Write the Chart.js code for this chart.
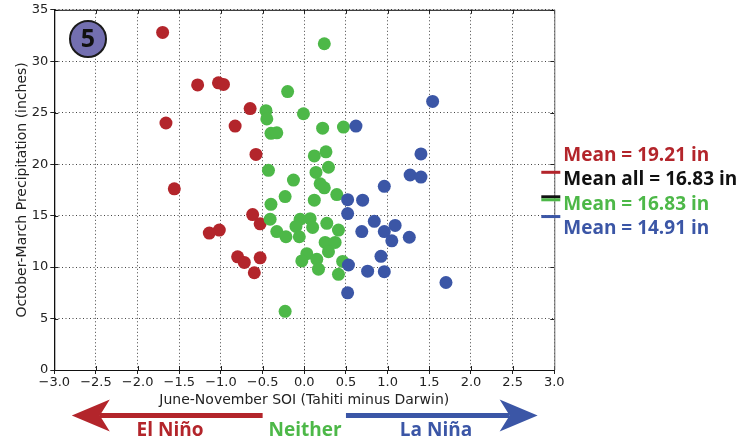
<!DOCTYPE html>
<html>
<head>
<meta charset="utf-8">
<script src="https://cdn.jsdelivr.net/npm/chart.js@4/dist/chart.umd.min.js"></script>
<style>
  html, body { margin: 0; padding: 0; background: #fff; }
  #wrap { width: 745px; height: 446px; position: relative; }
</style>
</head>
<body>
<div id="wrap"><canvas id="soiChart" width="745" height="446"></canvas></div>
<script>
// axis ticks
const xTicks = [-3, -2.5, -2, -1.5, -1, -0.5, 0, 0.5, 1, 1.5, 2, 2.5, 3];
const yTicks = [0, 5, 10, 15, 20, 25, 30, 35];

// El Nino years (SOI, precip inches)
const elNinoSOI =    [-1.70, -1.28, -1.03, -0.97, -0.65, -1.66, -0.83, -0.58, -1.56, -0.62, -0.53, -1.02, -1.14, -0.80, -0.72, -0.53, -0.60];
const elNinoPrecip = [32.8, 27.7, 27.9, 27.75, 25.4, 24.0, 23.7, 20.95, 17.6, 15.1, 14.2, 13.6, 13.3, 11.0, 10.45, 10.9, 9.45];

// Neither
const neitherSOI =    [0.24, -0.20, -0.46, -0.01, -0.45, 0.22, 0.47, -0.40, -0.33, 0.12, 0.26, 0.29, 0.14, -0.43, -0.13, 0.19, 0.24, 0.39, -0.23, 0.12, -0.40, -0.41, -0.05, 0.07, -0.10, 0.10, 0.27, 0.41, -0.33, -0.22, -0.06, 0.25, 0.37, 0.29, 0.03, -0.03, 0.15, 0.46, 0.17, 0.41, -0.23];
const neitherPrecip = [31.7, 27.05, 25.2, 24.9, 24.4, 23.5, 23.6, 23.0, 23.05, 20.8, 21.2, 19.7, 19.2, 19.4, 18.45, 18.1, 17.7, 17.05, 16.85, 16.5, 16.1, 14.65, 14.65, 14.7, 13.95, 13.85, 14.25, 13.6, 13.45, 12.95, 12.95, 12.4, 12.4, 11.5, 11.3, 10.6, 10.75, 10.55, 9.8, 9.3, 5.7];

// La Nina years
const laNinaSOI =    [0.62, 1.54, 1.40, 1.27, 1.40, 0.96, 0.52, 0.70, 0.52, 0.84, 1.09, 0.69, 0.96, 1.05, 1.26, 0.92, 0.53, 0.76, 0.96, 1.70, 0.52];
const laNinaPrecip = [23.7, 26.1, 21.0, 18.95, 18.75, 17.85, 16.55, 16.5, 15.2, 14.45, 14.05, 13.45, 13.45, 12.55, 12.9, 11.05, 10.2, 9.6, 9.55, 8.5, 7.5];

// group means shown at the right edge
const meanNames  = ['Mean = 19.21 in', 'Mean all = 16.83 in', 'Mean = 16.83 in', 'Mean = 14.91 in'];
const meanValues = [19.21, 16.83, 16.83, 14.91];

const RED = '#b3252b';
const GREEN = '#4db848';
const BLUE = '#3b56a6';
const meanColors = [RED, '#111', GREEN, BLUE];

function toPoints(xs, ys) {
    return xs.map((x, i) => ({ x: x, y: ys[i] }));
}

const decorations = {
    id: 'decorations',
    afterDraw(chart) {
        const ctx = chart.ctx;
        const a = chart.chartArea;
        const xs = chart.scales.x;
        const ys = chart.scales.y;
        ctx.save();

        // small inside ticks (matplotlib style)
        ctx.strokeStyle = '#222';
        ctx.lineWidth = 1;
        ctx.beginPath();
        xTicks.forEach(v => {
            const px = Math.round(xs.getPixelForValue(v)) + 0.5;
            ctx.moveTo(px, a.top); ctx.lineTo(px, a.top + 4);
            ctx.moveTo(px, a.bottom); ctx.lineTo(px, a.bottom - 4);
        });
        yTicks.forEach(v => {
            const py = Math.round(ys.getPixelForValue(v)) + 0.5;
            ctx.moveTo(a.left, py); ctx.lineTo(a.left + 4, py);
            ctx.moveTo(a.right, py); ctx.lineTo(a.right - 4, py);
        });
        ctx.stroke();

        // frame
        ctx.strokeStyle = '#111';
        ctx.beginPath();
        ctx.moveTo(a.left + 0.5, a.bottom + 0.5);
        ctx.lineTo(a.left + 0.5, a.top + 0.5);
        ctx.lineTo(a.right, a.top + 0.5);
        ctx.moveTo(a.left, a.bottom + 0.5);
        ctx.lineTo(a.right, a.bottom + 0.5);
        ctx.stroke();
        ctx.strokeStyle = '#666';
        ctx.beginPath();
        ctx.moveTo(a.right + 0.5, a.top);
        ctx.lineTo(a.right + 0.5, a.bottom);
        ctx.stroke();

        // axis titles
        ctx.fillStyle = '#222';
        ctx.font = '14px "DejaVu Sans"';
        ctx.textAlign = 'center';
        ctx.textBaseline = 'middle';
        ctx.fillText('June-November SOI (Tahiti minus Darwin)', (a.left + a.right) / 2, 400);
        ctx.save();
        ctx.translate(22, (a.top + a.bottom) / 2);
        ctx.rotate(-Math.PI / 2);
        ctx.fillText('October-March Precipitation (inches)', 0, 0);
        ctx.restore();

        // mean markers
        ctx.lineWidth = 3;
        meanValues.forEach((m, i) => {
            let py = ys.getPixelForValue(m);
            if (i === 2) py += 3;   // same value as overall mean, nudge so both show
            ctx.strokeStyle = meanColors[i];
            ctx.beginPath();
            ctx.moveTo(a.right - 13, py);
            ctx.lineTo(a.right + 6, py);
            ctx.stroke();
        });
        ctx.font = 'bold 19px "Open Sans"';
        ctx.textAlign = 'left';
        const labelY = [156, 180, 204.5, 229];
        meanNames.forEach((t, i) => {
            ctx.fillStyle = meanColors[i];
            ctx.fillText(t, a.right + 9, labelY[i]);
        });

        // arrows under the axis
        const ay = 415.5;
        function arrow(x0, x1, color) {
            const dir = x1 < x0 ? -1 : 1;
            const base = x1 - dir * 38;
            const notch = x1 - dir * 28;
            ctx.fillStyle = color;
            ctx.strokeStyle = color;
            ctx.lineWidth = 5;
            ctx.beginPath();
            ctx.moveTo(x0, ay);
            ctx.lineTo(notch, ay);
            ctx.stroke();
            ctx.beginPath();
            ctx.moveTo(x1, ay);
            ctx.lineTo(base, ay - 16);
            ctx.lineTo(notch, ay);
            ctx.lineTo(base, ay + 16);
            ctx.closePath();
            ctx.fill();
        }
        arrow(xs.getPixelForValue(-0.5), xs.getPixelForValue(-2.79), RED);
        arrow(xs.getPixelForValue(0.5), xs.getPixelForValue(2.8), BLUE);

        ctx.textAlign = 'center';
        ctx.fillStyle = RED;
        ctx.fillText('El Niño', 170, 431);
        ctx.fillStyle = GREEN;
        ctx.fillText('Neither', 305, 431);
        ctx.fillStyle = BLUE;
        ctx.fillText('La Niña', 436, 431);

        // panel badge
        ctx.beginPath();
        ctx.arc(88, 39, 18, 0, Math.PI * 2);
        ctx.fillStyle = '#736fb0';
        ctx.fill();
        ctx.lineWidth = 2;
        ctx.strokeStyle = '#1a1a1a';
        ctx.stroke();
        ctx.fillStyle = '#111';
        ctx.font = 'bold 25px "Open Sans"';
        ctx.fillText('5', 88, 40);

        ctx.restore();
    }
};

const ctx = document.getElementById('soiChart').getContext('2d');
window.soiChart = new Chart(ctx, {
    type: 'scatter',
    data: {
        datasets: [
            { label: 'La Niña', data: toPoints(laNinaSOI, laNinaPrecip), backgroundColor: BLUE, order: 1 },
            { label: 'Neither', data: toPoints(neitherSOI, neitherPrecip), backgroundColor: GREEN, order: 2 },
            { label: 'El Niño', data: toPoints(elNinoSOI, elNinoPrecip), backgroundColor: RED, order: 3 }
        ]
    },
    options: {
        responsive: false,
        animation: false,
        events: [],
        layout: { autoPadding: false, padding: { top: 8, right: 190.7, left: 0, bottom: 0 } },
        elements: { point: { radius: 6.5, borderWidth: 0, hoverRadius: 6.5 } },
        scales: {
            x: {
                type: 'linear',
                min: -3, max: 3,
                afterBuildTicks: s => { s.ticks = xTicks.map(v => ({ value: v })); },
                afterFit: s => { s.height = 76; },
                ticks: {
                    color: '#222',
                    padding: 1,
                    maxRotation: 0,
                    font: { family: 'DejaVu Sans', size: 13 },
                    callback: v => v.toFixed(1).replace('-', '\u2212')
                },
                grid: { color: '#444', lineWidth: 1, tickLength: 4, tickColor: '#222', tickBorderDash: [] },
                border: { display: true, color: '#111', dash: [1, 2.5] }
            },
            y: {
                type: 'linear',
                min: 0, max: 35,
                afterBuildTicks: s => { s.ticks = yTicks.map(v => ({ value: v })); },
                afterFit: s => { s.width = 54.3; },
                ticks: {
                    color: '#222',
                    padding: 2,
                    font: { family: 'DejaVu Sans', size: 13 },
                    callback: v => String(v)
                },
                grid: { color: '#444', lineWidth: 1, tickLength: 4, tickColor: '#222', tickBorderDash: [] },
                border: { display: true, color: '#111', dash: [1, 2.5] }
            }
        },
        plugins: {
            legend: { display: false },
            tooltip: { enabled: false }
        }
    },
    plugins: [decorations]
});
</script>
</body>
</html>
